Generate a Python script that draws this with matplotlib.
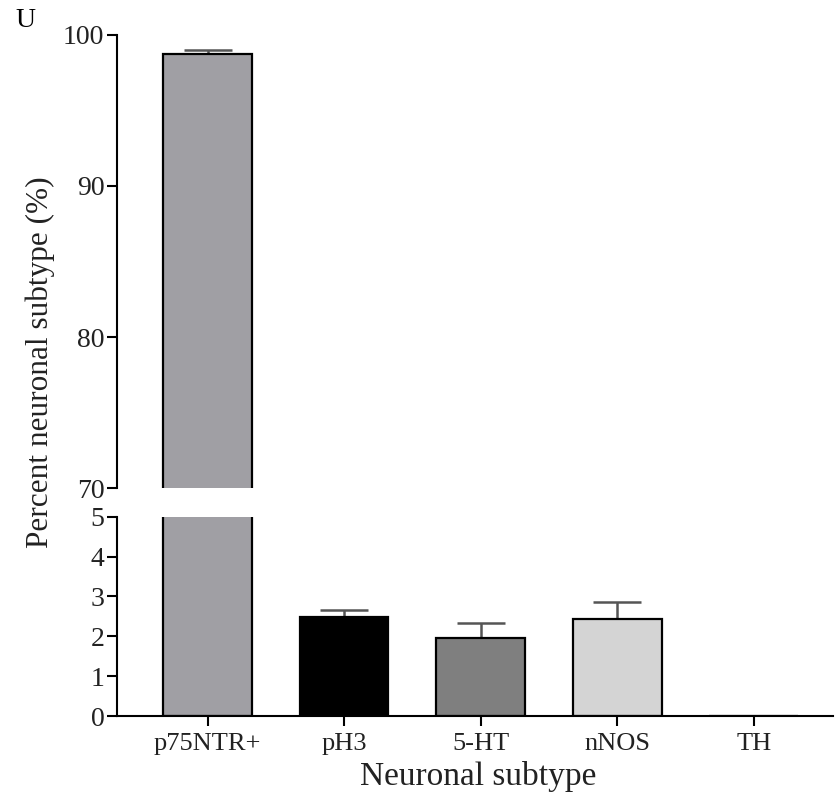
import numpy as np
import matplotlib.pyplot as plt

# ─── Data ───────────────────────────────────────────────────────────────────
subtypes = ["p75NTR+", "pH3", "5-HT", "nNOS", "TH"]
percent = [98.72, 2.49, 1.96, 2.44, 0.0]
sem = [0.28, 0.18, 0.38, 0.42, 0.0]
colors = ["#a09fa4", "#000000", "#7f7f7f", "#d4d4d4", "#ffffff"]

plt.rcParams["font.family"] = ["Liberation Serif", "DejaVu Serif"]

fig = plt.figure(figsize=(8.35, 8.02), dpi=100)
left, right = 0.1401, 0.9976
ax_top = fig.add_axes([left, 0.3915, right - left, 0.9564 - 0.3915])
ax_bot = fig.add_axes([left, 0.1072, right - left, 0.3557 - 0.1072])

x = np.arange(len(subtypes))
for ax in (ax_top, ax_bot):
    ax.bar(x, percent, width=0.65, color=colors, edgecolor="black",
           linewidth=1.6, zorder=2)
    ax.errorbar(x, percent, yerr=[np.zeros(len(sem)), sem], fmt="none",
                ecolor="#555555", elinewidth=1.8, capsize=17, capthick=1.8,
                zorder=1)
    ax.set_xlim(-0.663, 4.58)
    for s in ("top", "right"):
        ax.spines[s].set_visible(False)
    ax.spines["left"].set_linewidth(1.5)
    ax.tick_params(axis="y", labelsize=20, width=1.5, length=7, pad=2,
                   labelcolor="#222222")

ax_top.set_ylim(70, 100)
ax_top.set_yticks([70, 80, 90, 100])
ax_top.spines["bottom"].set_visible(False)
ax_top.tick_params(axis="x", bottom=False, labelbottom=False)

ax_bot.set_ylim(0, 5)
ax_bot.set_yticks([0, 1, 2, 3, 4, 5])
ax_bot.spines["bottom"].set_linewidth(1.5)
ax_bot.set_xticks(x)
ax_bot.set_xticklabels(subtypes)
ax_bot.tick_params(axis="x", labelsize=19, width=1.5, length=7, pad=5,
                   labelcolor="#222222")

fig.text(0.573, 0.032, "Neuronal subtype", fontsize=24, ha="center",
         va="center", color="#222222")
fig.text(0.048, 0.549, "Percent neuronal subtype (%)", fontsize=22.5,
         rotation=90, ha="center", va="center", color="#222222")
fig.text(0.03, 0.975, "U", fontsize=20, ha="center", va="center")

fig.savefig("out.png", dpi=100)
